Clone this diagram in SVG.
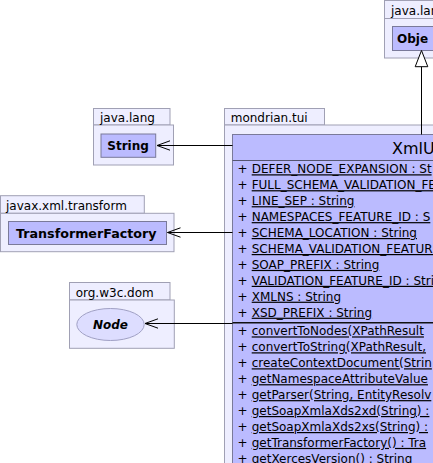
<svg xmlns="http://www.w3.org/2000/svg" width="433" height="463" viewBox="0 0 433 463">
<style>
.pkg{fill:#eeeeff;stroke:#a0a0b4;stroke-width:1}
.cls{fill:#bbbbff;stroke:#7a7a9a;stroke-width:1}
.plab{font-family:"DejaVu Sans",sans-serif;font-size:12px;fill:#000}
.cname{font-family:"DejaVu Sans",sans-serif;font-size:12px;font-weight:bold;fill:#000}
.mem{font-family:"DejaVu Sans",sans-serif;font-size:12px;fill:#000}
.u{text-decoration:underline}
.conn{stroke:#000;stroke-width:1;fill:none}
</style>
<rect width="433" height="463" fill="#ffffff"/>

<g id="pkg-java-lang-object">
<rect class="pkg" x="384.5" y="0.5" width="80" height="18"/>
<rect class="pkg" x="384.5" y="18.5" width="80" height="39.5"/>
<text class="plab" x="391" y="15">java.lang</text>
<g id="node-Object">
<rect class="cls" x="392.5" y="26.5" width="58" height="24"/>
<text class="cname" x="397" y="43" font-size="13px">Obje</text>
</g>
</g>

<g id="pkg-java-lang-string">
<rect class="pkg" x="93.5" y="108.5" width="76.5" height="16.5"/>
<rect class="pkg" x="93.5" y="125" width="80" height="40"/>
<text class="plab" x="100" y="121.5">java.lang</text>
<g id="node-String">
<rect class="cls" x="101" y="134" width="54.7" height="23.3"/>
<text class="cname" x="107.3" y="150">String</text>
</g>
</g>

<g id="pkg-javax-xml-transform">
<rect class="pkg" x="0.5" y="195.7" width="143.8" height="17.6"/>
<rect class="pkg" x="0.5" y="213.3" width="173.5" height="38.4"/>
<text class="plab" x="6" y="209.8">javax.xml.transform</text>
<g id="node-TransformerFactory">
<rect class="cls" x="8.5" y="221.5" width="158" height="23"/>
<text class="cname" x="16" y="237.5" textLength="140.5" lengthAdjust="spacingAndGlyphs">TransformerFactory</text>
</g>
</g>

<g id="pkg-org-w3c-dom">
<rect class="pkg" x="69.5" y="282.5" width="100.5" height="17.5"/>
<rect class="pkg" x="69.5" y="300" width="104.8" height="48.3"/>
<text class="plab" x="75.7" y="296.5">org.w3c.dom</text>
<g id="node-Node">
<ellipse cx="110.5" cy="324.5" rx="33.7" ry="16" fill="#ddddff" stroke="#a0a0c4" stroke-width="1"/>
<text class="cname" x="110.5" y="328.8" text-anchor="middle" font-style="italic">Node</text>
</g>
</g>

<g id="pkg-mondrian-tui">
<rect class="pkg" x="224.5" y="108.5" width="100" height="16.5"/>
<rect class="pkg" x="224.5" y="125" width="260" height="360"/>
<text class="plab" x="230.7" y="121.5">mondrian.tui</text>
<g id="node-XmlUtil">
<rect class="cls" x="232.5" y="134.5" width="380" height="360"/>
<text x="392" y="153.5" font-family="DejaVu Sans, sans-serif" font-size="16px" fill="#000">XmlU</text>
<line x1="232.5" y1="160.5" x2="433" y2="160.5" stroke="#555570" stroke-width="1"/>
<g class="mem">
<text x="237.5" y="173.3">+</text><text class="u" x="251.7" y="173.3">DEFER_NODE_EXPANSION : St</text>
<text x="237.5" y="189.2">+</text><text class="u" x="251.7" y="189.2">FULL_SCHEMA_VALIDATION_FE</text>
<text x="237.5" y="205.2">+</text><text class="u" x="251.7" y="205.2">LINE_SEP : String</text>
<text x="237.5" y="221.1">+</text><text class="u" x="251.7" y="221.1">NAMESPACES_FEATURE_ID : S</text>
<text x="237.5" y="237.0">+</text><text class="u" x="251.7" y="237.0">SCHEMA_LOCATION : String</text>
<text x="237.5" y="253.0">+</text><text class="u" x="251.7" y="253.0">SCHEMA_VALIDATION_FEATURE</text>
<text x="237.5" y="268.9">+</text><text class="u" x="251.7" y="268.9">SOAP_PREFIX : String</text>
<text x="237.5" y="284.8">+</text><text class="u" x="251.7" y="284.8">VALIDATION_FEATURE_ID : Stri</text>
<text x="237.5" y="300.7">+</text><text class="u" x="251.7" y="300.7">XMLNS : String</text>
<text x="237.5" y="316.7">+</text><text class="u" x="251.7" y="316.7">XSD_PREFIX : String</text>
</g>
<line x1="232.5" y1="322.8" x2="433" y2="322.8" stroke="#111" stroke-width="1.6"/>
<g class="mem">
<text x="237.5" y="335.4">+</text><text class="u" x="251.7" y="335.4">convertToNodes(XPathResult</text>
<text x="237.5" y="351.3">+</text><text class="u" x="251.7" y="351.3">convertToString(XPathResult,</text>
<text x="237.5" y="367.3">+</text><text class="u" x="251.7" y="367.3">createContextDocument(Strin</text>
<text x="237.5" y="383.2">+</text><text class="u" x="251.7" y="383.2">getNamespaceAttributeValue</text>
<text x="237.5" y="399.1">+</text><text class="u" x="251.7" y="399.1">getParser(String, EntityResolv</text>
<text x="237.5" y="415.0">+</text><text class="u" x="251.7" y="415.0">getSoapXmlaXds2xd(String) :</text>
<text x="237.5" y="431.0">+</text><text class="u" x="251.7" y="431.0">getSoapXmlaXds2xs(String) :</text>
<text x="237.5" y="446.9">+</text><text class="u" x="251.7" y="446.9">getTransformerFactory() : Tra</text>
<text x="237.5" y="462.8">+</text><text class="u" x="251.7" y="462.8">getXercesVersion() : String</text>
</g>
</g>
</g>

<g id="connectors">
<line class="conn" x1="421.5" y1="134.5" x2="421.5" y2="66.7"/>
<polygon points="421.5,50.5 415.2,66.7 427.8,66.7" fill="#fff" stroke="#000" stroke-width="1"/>
<line class="conn" x1="232.5" y1="145.5" x2="157" y2="145.5"/>
<polyline class="conn" points="170,140.8 157,145.5 170,150.2"/>
<line class="conn" x1="232.5" y1="232.5" x2="167.5" y2="232.5"/>
<polyline class="conn" points="180.5,227.8 167.5,232.5 180.5,237.2"/>
<line class="conn" x1="232.5" y1="323.5" x2="145" y2="323.5"/>
<polyline class="conn" points="158,318.8 145,323.5 158,328.2"/>
</g>
</svg>
